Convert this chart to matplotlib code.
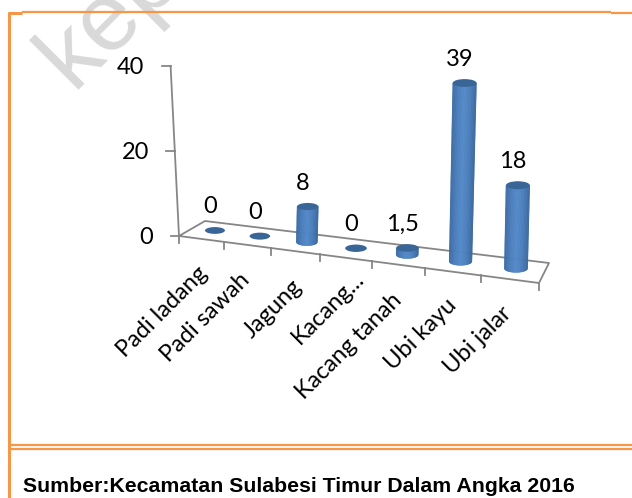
import numpy as np
import matplotlib
matplotlib.use('Agg')
import matplotlib.pyplot as plt
from matplotlib.colors import LinearSegmentedColormap
from matplotlib.patches import Ellipse, Polygon

categories = ['Padi ladang', 'Padi sawah', 'Jagung', 'Kacang...', 'Kacang tanah', 'Ubi kayu', 'Ubi jalar']
values = [0, 0, 8, 0, 1.5, 39, 18]
value_labels = ['0', '0', '8', '0', '1,5', '39', '18']
y_ticks = [0, 20, 40]

ORANGE = '#F79646'
AXIS_GREY = '#868686'
bar_cmap = LinearSegmentedColormap.from_list('bar', ['#3A6AA3', '#4A7DBB', '#5289C9', '#4A7DBB', '#3A689E'])

# label end points, offset from the front edge of each category (layout only)
label_offsets = [(3, 31), (-1, 32), (3, 32), (15, 17), (0, 32), (0, 30), (-2, 31)]


def floor_point(u, v):
    # u = category position 0-7, v = depth 0-1, slight perspective along the floor
    w = u - 0.021 * u * (7 - u)
    fx, fy = 179 + w * 360 / 7, 236 + w * 47 / 7
    bx, by = 205 + w * 344 / 7, 221 + w * 42 / 7
    return fx + (bx - fx) * v, fy + (by - fy) * v


def wall_point(val):
    return 179 - val * 0.2 - (val / 40) ** 2 * 0.4, 236 - val * 4.25


def project_bar(i, val):
    x, y = floor_point(i + 0.5, 0.55)
    k = 4.35 + i * 0.045
    return x + val * 0.105, y - val * k


def draw_bar(ax, i, val):
    bx, by = project_bar(i, 0)
    tx, ty = project_bar(i, val)
    rb = 10 + i * 0.28
    rt = rb + val * 0.012
    ry = 3.4 + i * 0.1
    if val > 0:
        ts = np.linspace(-1, 1, 41)
        for a, b in zip(ts[:-1], ts[1:]):
            pts = [(bx + a * rb, by + np.sqrt(1 - a * a) * ry),
                   (bx + b * rb, by + np.sqrt(1 - b * b) * ry),
                   (tx + b * rt, ty), (tx + a * rt, ty)]
            ax.add_patch(Polygon(pts, closed=True, fc=bar_cmap((a + b) / 4 + 0.5),
                                 ec=bar_cmap((a + b) / 4 + 0.5), lw=0.3, zorder=4))
    ax.add_patch(Ellipse((tx, ty), 2 * rt, 2 * ry, fc='#3A6697', ec='none', zorder=5))


def main():
    fig = plt.figure(figsize=(6.32, 4.98), dpi=100)
    ax = fig.add_axes([0, 0, 1, 1])
    ax.set_xlim(0, 632)
    ax.set_ylim(498, 0)
    ax.axis('off')

    # watermark behind everything
    ax.text(72, 90, 'kep', family='Liberation Sans', fontsize=70, color='#D9D9D9',
            rotation=45, rotation_mode='anchor', ha='left', va='baseline', zorder=0)

    # page frame
    ax.plot([8.5, 8.5], [12, 498], color=ORANGE, lw=2.2, zorder=1, solid_capstyle='butt')
    ax.plot([8, 22], [13, 13], color=ORANGE, lw=2.2, zorder=1, solid_capstyle='butt')
    ax.plot([22, 611], [12.3, 12.3], color=ORANGE, lw=1.6, zorder=1, solid_capstyle='butt')
    ax.plot([611, 632], [13, 13], color=ORANGE, lw=1.6, zorder=1, solid_capstyle='butt')
    ax.plot([8, 632], [445, 445], color=ORANGE, lw=1.6, zorder=1, solid_capstyle='butt')
    ax.plot([8, 632], [449, 449], color=ORANGE, lw=1.6, zorder=1, solid_capstyle='butt')

    # floor and value axis
    corners = [floor_point(0, 0), floor_point(7, 0), floor_point(7, 1), floor_point(0, 1), floor_point(0, 0)]
    ax.plot(*zip(*corners), color=AXIS_GREY, lw=1.3, zorder=2)
    top = wall_point(40)
    ax.plot([179, top[0]], [236, top[1]], color=AXIS_GREY, lw=1.3, zorder=2)
    for t in y_ticks:
        x, y = wall_point(t)
        ax.plot([x - 8.5, x], [y, y], color=AXIS_GREY, lw=1.3, zorder=2)
        ax.text(x - 26, y + 1.5, str(t), family='Lato', fontsize=17, ha='right', va='center', color='black')

    for i in range(8):
        x, y = floor_point(i, 0)
        ax.plot([x, x], [y, y + 7], color=AXIS_GREY, lw=1.3, zorder=2)

    for i, val in enumerate(values):
        draw_bar(ax, i, val)
        x, y = project_bar(i, val)
        ax.text(x - 5, y - 23.5, value_labels[i], family='Lato', fontsize=17,
                ha='center', va='center', color='black', zorder=6)

    for i, name in enumerate(categories):
        x, y = floor_point(i + 0.5, 0)
        dx, dy = label_offsets[i]
        ax.text(x + dx, y + dy, name, family='Lato', fontsize=17, rotation=45,
                rotation_mode='anchor', ha='right', va='center', color='black', zorder=6)

    ax.text(23, 486, 'Sumber:Kecamatan Sulabesi Timur Dalam Angka 2016', family='Liberation Sans',
            fontsize=15.35, fontweight='bold', ha='left', va='center', color='black')

    fig.savefig('out.png', dpi=100)


if __name__ == '__main__':
    main()
